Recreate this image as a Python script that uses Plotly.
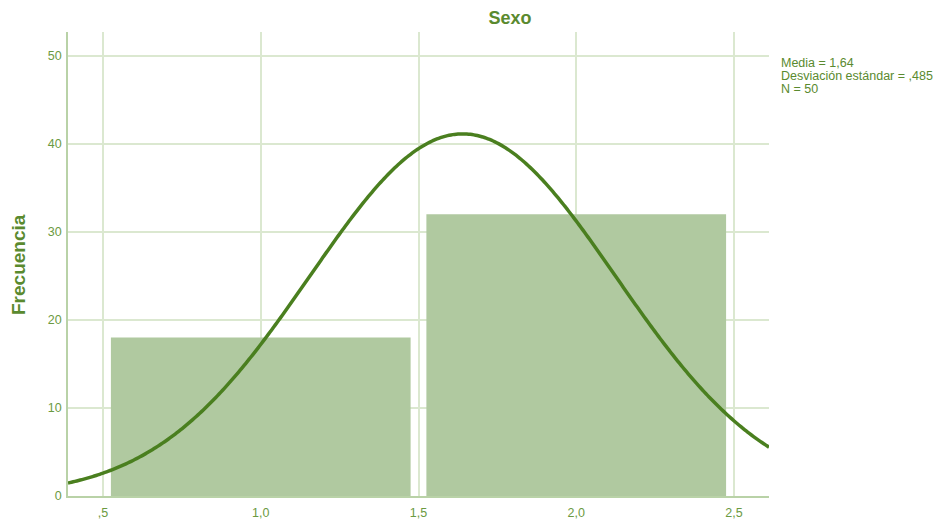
import numpy as np
import plotly.graph_objects as go

# Data
categories = [1.0, 2.0]          # bin centers (Sexo codes)
frequencies = [18, 32]
mean_val = 1.64
sd_val = 0.485
n_val = 50
bin_width = 1.0
x_tickvals = [0.5, 1.0, 1.5, 2.0, 2.5]
x_ticktext = [",5", "1,0", "1,5", "2,0", "2,5"]
y_tickvals = [0, 10, 20, 30, 40, 50]
stats_lines = ["Media = 1,64", "Desviación estándar = ,485", "N = 50"]

x_range = [0.389, 2.611]
y_range = [0, 52.7]

# Normal curve from stated statistics
xs = np.linspace(x_range[0], x_range[1], 400)
ys = n_val * bin_width / (sd_val * np.sqrt(2 * np.pi)) * np.exp(-0.5 * ((xs - mean_val) / sd_val) ** 2)

label_color = "#6b9a42"
title_color = "#5a8a2f"
grid_color = "#dbe8d0"
axis_color = "#b9d2a7"

# page has an 8px body margin, so the figure is sized to fit inside the window
OFF = 8
W, H = 943 - OFF, 519 - OFF
L, T = 68 - OFF, 32 - OFF
pw, ph = 701, 464
R, B = W - L - pw, H - T - ph

fig = go.Figure()
fig.add_trace(go.Bar(x=categories, y=frequencies, width=0.95,
                     marker=dict(color="#b0c9a0", line=dict(width=0)),
                     hoverinfo="skip"))
fig.add_trace(go.Scatter(x=xs, y=ys, mode="lines",
                         line=dict(color="#4a7f1f", width=3.5, simplify=False),
                         hoverinfo="skip"))

annotations = [dict(
    text="<b>Frecuencia</b>", xref="paper", yref="paper",
    x=-(68 - 18) / pw, y=(496 - 265) / ph, textangle=-90,
    xanchor="center", yanchor="middle", showarrow=False,
    font=dict(size=19, color=title_color))]
for i, line in enumerate(stats_lines):
    annotations.append(dict(
        text=line, xref="paper", yref="paper",
        x=1 + 10 / pw, y=1 - (63 + 13 * i - 32) / ph,
        xanchor="left", yanchor="middle", align="left", showarrow=False,
        font=dict(size=12.5, color=title_color)))

fig.update_layout(
    width=W, height=H,
    margin=dict(l=L, r=R, t=T, b=B, autoexpand=False),
    paper_bgcolor="white", plot_bgcolor="white",
    showlegend=False,
    font=dict(family="Liberation Sans, Arial, sans-serif", color=label_color, size=12),
    title=dict(text="<b>Sexo</b>", x=(510 - OFF) / W, xanchor="center", y=1 - (18 - OFF) / H, yanchor="middle",
               font=dict(size=18, color=title_color), automargin=False),
    xaxis=dict(range=x_range, tickvals=x_tickvals, ticktext=x_ticktext,
               showgrid=True, gridcolor=grid_color, gridwidth=1.5,
               showline=True, linecolor=axis_color, linewidth=1.5,
               ticks="", zeroline=False, automargin=False, ticklabelstandoff=4,
               tickfont=dict(size=12.5, color=label_color)),
    yaxis=dict(range=y_range, tickvals=y_tickvals,
               showgrid=True, gridcolor=grid_color, gridwidth=1.5,
               showline=True, linecolor=axis_color, linewidth=1.5,
               ticks="", zeroline=False, automargin=False, ticklabelstandoff=2,
               tickfont=dict(size=12.5, color=label_color)),
    annotations=annotations,
)

fig.write_html("out.html")
